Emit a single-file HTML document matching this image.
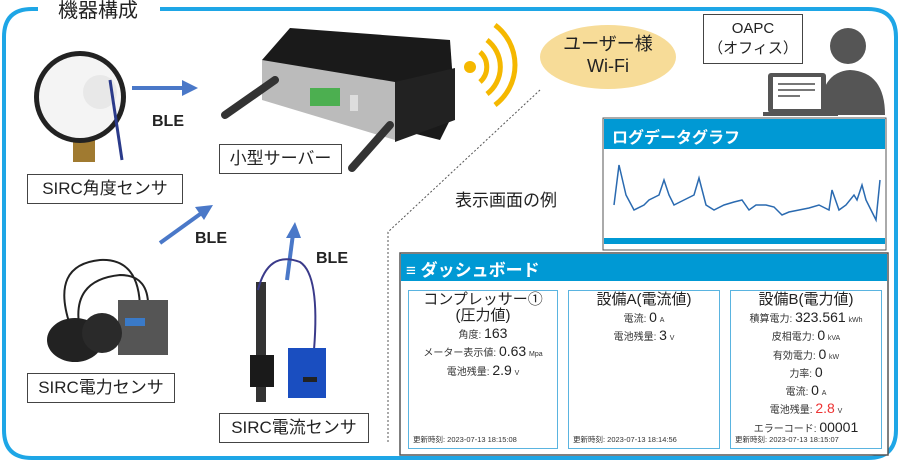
<!DOCTYPE html>
<html><head><meta charset="utf-8"><style>
*{margin:0;padding:0;box-sizing:border-box}
body{width:902px;height:466px;background:#fff;position:relative;overflow:hidden;font-family:"Liberation Sans","Noto Sans CJK JP",sans-serif;color:#222}
.a{position:absolute}
.lbl{position:absolute;border:1.5px solid #444;background:#fff;font-size:17px;text-align:center;line-height:28px}
.ble{position:absolute;font-size:16px;font-weight:bold}
.pn{position:absolute;top:290px;height:159px;border:1.5px solid #5ab4e0;text-align:center;font-size:10px;color:#333}
.pn .t{font-size:15px;line-height:16px;color:#222;margin-top:1px}
.pn .r{height:18.3px;line-height:18px;white-space:nowrap}
.pn b{font-weight:normal;font-size:14px;color:#222}
.pn small{font-size:7px}
.pn .f{position:absolute;left:4px;bottom:3px;font-size:7.5px}
</style></head><body>
<svg class="a" style="left:0;top:0" width="902" height="466">
<path d="M160 9 H868 Q896 9 896 37 V430 Q896 458 868 458 H32 Q4 458 4 430 V37 Q4 9 32 9 H38" fill="none" stroke="#1ea6e6" stroke-width="4"/>
<path d="M540 90 L388 232 V442" fill="none" stroke="#555" stroke-width="1" stroke-dasharray="2,2"/>
<g stroke="#4a78c8" stroke-width="4" fill="#4a78c8">
<line x1="132" y1="88" x2="184" y2="88"/><polygon points="198,88 182,80 182,96" stroke="none"/>
<line x1="160" y1="243" x2="203" y2="212"/><polygon points="213,205 195,207 204,220" stroke="none"/>
<line x1="287" y1="280" x2="293" y2="234"/><polygon points="295,222 286,238 301,238" stroke="none"/>
</g>
<rect x="73" y="138" width="22" height="24" fill="#a07a30"/>
<circle cx="80" cy="97" r="46" fill="#222"/><circle cx="80" cy="97" r="41" fill="#f4f4f4"/>
<circle cx="100" cy="92" r="17" fill="#e8e8e8"/>
<line x1="110" y1="80" x2="122" y2="160" stroke="#2a3a8a" stroke-width="3"/>
<polygon points="262,60 290,28 450,40 455,110 440,140 262,95" fill="#1a1a1a"/>
<polygon points="262,60 395,82 395,140 262,100" fill="#bbb"/>
<polygon points="395,82 455,68 455,120 395,142" fill="#222"/>
<rect x="310" y="88" width="30" height="18" fill="#4caf50"/>
<rect x="350" y="95" width="8" height="16" fill="#ddd"/>
<line x1="225" y1="115" x2="275" y2="80" stroke="#333" stroke-width="8" stroke-linecap="round"/>
<line x1="352" y1="168" x2="390" y2="125" stroke="#333" stroke-width="8" stroke-linecap="round"/>
<circle cx="470" cy="67" r="6" fill="#f5b800"/>
<g fill="none" stroke="#f5b800" stroke-width="5">
<path d="M480 52 A20 20 0 0 1 480 82"/><path d="M487 40 A34 34 0 0 1 487 94"/><path d="M495 25 A50 50 0 0 1 495 105"/>
</g>
<ellipse cx="608" cy="57" rx="68" ry="32" fill="#f7dc98"/>
<circle cx="848" cy="46" r="18" fill="#555"/>
<path d="M820 115 Q820 72 850 70 Q885 72 885 115Z" fill="#555"/>
<rect x="768" y="73" width="58" height="40" rx="3" fill="#555"/><rect x="773" y="77" width="48" height="32" fill="#fff"/>
<g stroke="#777" stroke-width="2"><line x1="778" y1="84" x2="815" y2="84"/><line x1="778" y1="90" x2="815" y2="90"/><line x1="778" y1="96" x2="800" y2="96"/></g>
<rect x="763" y="112" width="75" height="4" fill="#555"/>
<path d="M70 325 Q50 265 100 260 Q140 258 140 310 M80 330 Q70 280 120 275 Q150 275 148 310" fill="none" stroke="#222" stroke-width="2"/>
<rect x="118" y="300" width="50" height="55" fill="#555"/>
<rect x="125" y="318" width="20" height="8" fill="#3a7ac8"/>
<ellipse cx="75" cy="340" rx="28" ry="22" fill="#222"/><ellipse cx="102" cy="333" rx="20" ry="20" fill="#2a2a2a"/>
<rect x="256" y="282" width="10" height="120" fill="#333"/>
<rect x="250" y="355" width="24" height="32" fill="#1a1a1a"/>
<path d="M258 290 Q268 250 300 262 Q320 275 314 350" fill="none" stroke="#3a3a8a" stroke-width="2"/>
<rect x="288" y="348" width="38" height="50" fill="#1a4ec0"/>
<rect x="303" y="377" width="14" height="5" fill="#222"/>
<rect x="603" y="118" width="283" height="132" fill="#fff" stroke="#555"/>
<rect x="604" y="119" width="281" height="30" fill="#0099d4"/>
<rect x="604" y="238" width="281" height="6" fill="#0099d4"/>
<polyline points="620,205 625,165 632,195 640,210 650,205 655,200 665,195 670,180 675,195 680,205 690,200 700,195 705,178 712,205 720,210 730,205 740,202 748,200 755,210 762,205 772,205 780,207 788,215 795,212 805,210 815,208 825,205 835,210 838,190 845,210 852,205 860,195 863,200 868,185 872,200 878,212 882,220 886,180" fill="none" stroke="#2a6ab0" stroke-width="1.5" transform="translate(-6,0)"/>
<rect x="400" y="253" width="488" height="202" fill="#fff" stroke="#555" stroke-width="1.5"/>
<rect x="401" y="254" width="486" height="27" fill="#0099d4"/>
</svg>
<div class="a" style="left:38px;top:0;width:120px;background:#fff;font-size:20px;text-align:center;line-height:22px">機器構成</div>
<div class="lbl" style="left:27px;top:174px;width:156px">SIRC角度センサ</div>
<div class="lbl" style="left:219px;top:144px;width:123px">小型サーバー</div>
<div class="lbl" style="left:27px;top:373px;width:148px">SIRC電力センサ</div>
<div class="lbl" style="left:219px;top:413px;width:150px">SIRC電流センサ</div>
<div class="ble" style="left:152px;top:113px">BLE</div>
<div class="ble" style="left:195px;top:230px">BLE</div>
<div class="ble" style="left:316px;top:250px">BLE</div>
<div class="a" style="left:558px;top:33px;width:100px;text-align:center;font-size:18px;line-height:22px">ユーザー様<br>Wi-Fi</div>
<div class="a" style="left:703px;top:14px;width:100px;height:50px;border:1.5px solid #444;background:#fff;text-align:center;font-size:15px;line-height:20px;padding-top:4px">OAPC<br>（オフィス）</div>
<div class="a" style="left:455px;top:186px;font-size:17px">表示画面の例</div>
<div class="a" style="left:612px;top:124px;font-size:16px;color:#fff;font-weight:bold">ログデータグラフ</div>
<div class="a" style="left:406px;top:256px;font-size:17px;color:#fff;font-weight:bold">≡ ダッシュボード</div>
<div class="pn" style="left:408px;width:150px"><div class="t">コンプレッサー①<br>(圧力値)</div>
<div class="r">角度: <b>163</b></div><div class="r">メーター表示値: <b>0.63</b> <small>Mpa</small></div><div class="r">電池残量: <b>2.9</b> <small>V</small></div>
<div class="f">更新時刻: 2023-07-13 18:15:08</div></div>
<div class="pn" style="left:568px;width:152px"><div class="t">設備A(電流値)</div>
<div class="r">電流: <b>0</b> <small>A</small></div><div class="r">電池残量: <b>3</b> <small>V</small></div>
<div class="f">更新時刻: 2023-07-13 18:14:56</div></div>
<div class="pn" style="left:730px;width:152px"><div class="t">設備B(電力値)</div>
<div class="r">積算電力: <b>323.561</b> <small>kWh</small></div><div class="r">皮相電力: <b>0</b> <small>kVA</small></div><div class="r">有効電力: <b>0</b> <small>kW</small></div><div class="r">力率: <b>0</b></div><div class="r">電流: <b>0</b> <small>A</small></div><div class="r">電池残量: <b style="color:#e33">2.8</b> <small>V</small></div><div class="r">エラーコード: <b>00001</b></div>
<div class="f">更新時刻: 2023-07-13 18:15:07</div></div>
</body></html>
